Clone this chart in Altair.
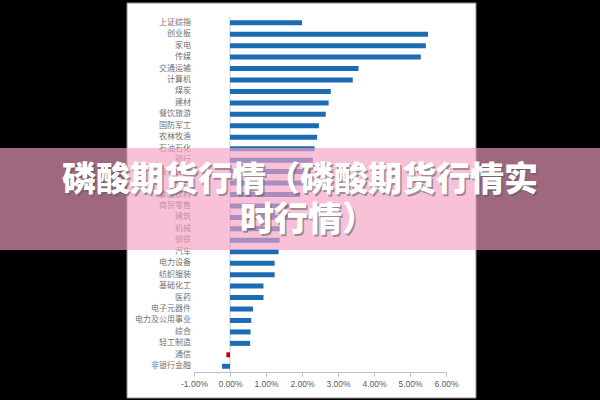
import altair as alt
import pandas as pd

categories = ["上证综指", "创业板", "家电", "传媒", "交通运输", "计算机", "煤炭", "建材",
              "餐饮旅游", "国防军工", "农林牧渔", "石油石化", "银行", "有色金属", "电子",
              "食品饮料", "商贸零售", "建筑", "机械", "钢铁", "汽车", "电力设备", "纺织服装",
              "基础化工", "医药", "电子元器件", "电力及公用事业", "综合", "轻工制造", "通信",
              "非银行金融"]
values = [2.00, 5.50, 5.44, 5.30, 3.57, 3.41, 2.80, 2.74,
          2.66, 2.47, 2.42, 2.35, 2.30, 2.25, 2.15,
          1.95, 1.72, 1.65, 1.50, 1.38, 1.35, 1.24, 1.24,
          0.93, 0.93, 0.64, 0.59, 0.57, 0.56, -0.10,
          -0.22]
highlight = "通信"
x_ticks = [-1, 0, 1, 2, 3, 4, 5, 6]
title_lines = ["磷酸期货行情（磷酸期货行情实", "时行情）"]

df = pd.DataFrame({"cat": categories, "val": values})
one = pd.DataFrame({"k": [0]})

xscale = alt.Scale(domain=[-1, 6], nice=False, zero=False)
xaxis = alt.Axis(values=x_ticks, title=None, grid=False,
                 labelExpr="(datum.value < 0 ? '-' : '') + format(abs(datum.value) / 100, '.2%')",
                 domainColor="#bfbfbf", tickColor="#bfbfbf", tickSize=4,
                 labelColor="#595959", labelFontSize=8.5, labelFont="Liberation Sans",
                 labelPadding=3, labelFlush=False, labelOverlap=False, labelSeparation=0,
                 labelBound=False, zindex=1)
yenc = alt.Y("cat:N", sort=categories, axis=None,
             scale=alt.Scale(paddingInner=0.5, paddingOuter=0.25))

panel = alt.Chart(one).mark_rect(fill="white", stroke="#8c8c8c", strokeWidth=1).encode(
    x=alt.value(-67), x2=alt.value(282), y=alt.value(-14), y2=alt.value(381))

zero_rule = alt.Chart(one).mark_rule(color="#c8c8c8", strokeWidth=1).encode(
    x=alt.X(datum=0, scale=xscale, axis=xaxis))

bars = alt.Chart(df).mark_bar(size=5).encode(
    x=alt.X("val:Q", scale=xscale, axis=xaxis),
    y=yenc,
    color=alt.condition(alt.datum.cat == highlight, alt.value("#c00000"), alt.value("#1c6cb4")),
)

labels = alt.Chart(df).mark_text(align="right", baseline="middle", fontSize=8,
                                 color="#707070", font="Noto Sans CJK SC").encode(
    y=yenc, x=alt.value(-3), text="cat:N")

overlay = alt.Chart(one).mark_rect(fill="#f6a0c3", opacity=0.65).encode(
    x=alt.value(-194), x2=alt.value(406), y=alt.value(131), y2=alt.value(233))

def title_text(line, xpos, ypos, shadow=False):
    m = alt.Chart(one).mark_text(
        align="center", baseline="middle", fontSize=34, fontWeight=900,
        font="Noto Sans CJK SC",
        color="#5a5a5a" if shadow else "white",
        opacity=0.55 if shadow else 1,
        dx=1.5 if shadow else 0, dy=1.5 if shadow else 0)
    return m.encode(x=alt.value(xpos), y=alt.value(ypos), text=alt.value(line))

chart = alt.layer(
    panel, zero_rule, bars, labels, overlay,
    title_text(title_lines[0], 106, 164, True), title_text(title_lines[0], 106, 164),
    title_text(title_lines[1], 114, 204, True), title_text(title_lines[1], 114, 204),
).properties(
    width=252, height=355,
    autosize=alt.AutoSizeParams(type="none"),
    padding={"left": 194, "top": 17, "right": 154, "bottom": 28},
    background="black",
).configure_view(stroke=None)

chart.save("out.html", embed_options={"renderer": "svg", "actions": False})
